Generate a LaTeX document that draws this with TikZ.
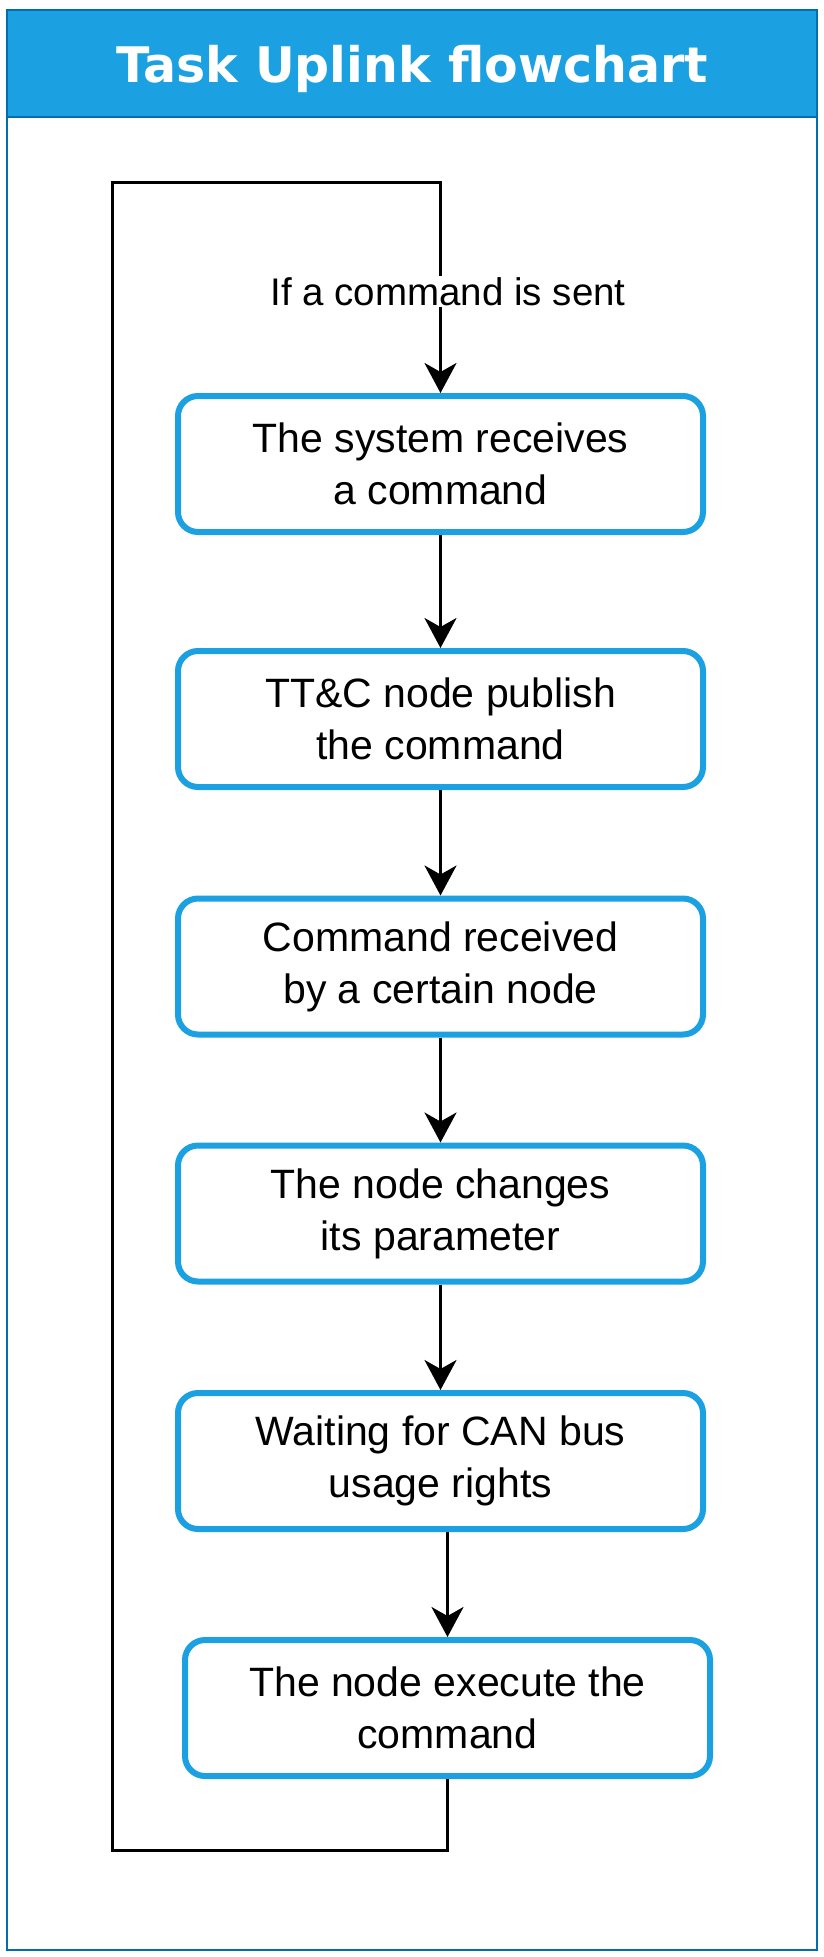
\documentclass[tikz,border=0pt]{standalone}
\usepackage{fontspec}
\setmainfont{Liberation Sans}
\newfontfamily\titlefont{DejaVu Sans}
\usetikzlibrary{arrows.meta}
\definecolor{drawblue}{HTML}{1BA1E2}
\definecolor{frameblue}{HTML}{006EAF}
\tikzset{
  stepbox/.style={draw=drawblue,line width=6pt,fill=white,rounded corners=20pt,minimum width=525pt,minimum height=136pt,align=center,font=\fontsize{41}{52}\selectfont},
  flow/.style={line width=3pt,-{Stealth[length=30pt,width=32pt,inset=9pt]}}
}
\begin{document}
\begin{tikzpicture}[x=1pt,y=-1pt]
  \useasboundingbox (0,0) rectangle (824,1957);
  % frame and title bar
  \draw[frameblue,line width=2.5pt,fill=white] (7,10) rectangle (817,1950);
  \draw[frameblue,line width=2.5pt,fill=drawblue] (7,10) rectangle (817,117);
  \node[anchor=base,text=white,font=\titlefont\bfseries\fontsize{49}{59}\selectfont] (title) at (412,82) {Task Uplink flowchart};
  % steps
  \node[stepbox] (recv) at (440.5,464) {The system receives\\a command};
  \node[stepbox] (publ) at (440.5,719) {TT\&C node publish\\the command};
  \node[stepbox] (got) at (440.5,966.5) {Command received\\by a certain node};
  \node[stepbox] (param) at (440.5,1213.5) {The node changes\\its parameter};
  \node[stepbox] (wait) at (440.5,1461) {Waiting for CAN bus\\usage rights};
  \node[stepbox] (exec) at (447.5,1708) {The node execute the\\command};
  \draw[flow] (recv) -- (publ);
  \draw[flow] (publ) -- (got);
  \draw[flow] (got) -- (param);
  \draw[flow] (param) -- (wait);
  \draw[flow] (wait.south -| exec.north) -- (exec.north);
  % loop back
  \coordinate (loopbot) at (112,1850);
  \coordinate (looptop) at (112,182);
  \draw[flow] (exec.south) |- (loopbot) -- (looptop) -| (recv.north);
  \node[fill=white,inner sep=1pt,font=\fontsize{38.5}{46}\selectfont] (cond) at (448,291.5) {If a command is sent};
\end{tikzpicture}
\end{document}
